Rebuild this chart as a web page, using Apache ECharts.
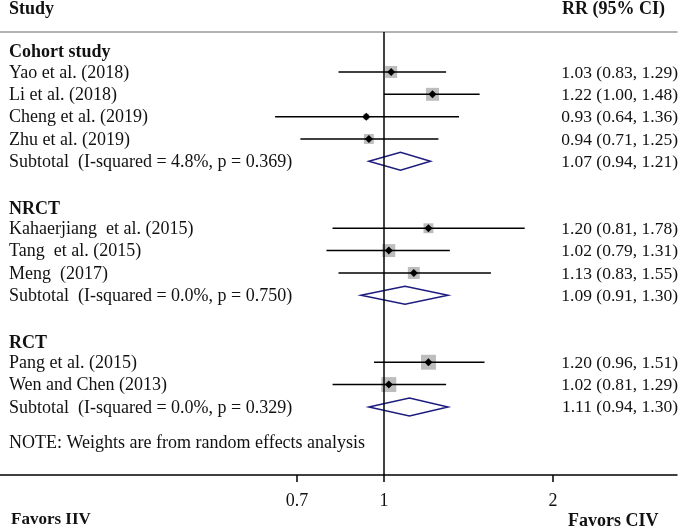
<!DOCTYPE html>
<html>
<head>
<meta charset="utf-8">
<script src="https://cdn.jsdelivr.net/npm/echarts@6/dist/echarts.min.js"></script>
<style>
html, body { margin: 0; padding: 0; background: #fff; }
#main { width: 685px; height: 528px; }
</style>
</head>
<body>
<div id="main"></div>
<script>
var groups = ['Cohort study', 'NRCT', 'RCT'];
var studies = ['Yao et al. (2018)', 'Li et al. (2018)', 'Cheng et al. (2019)', 'Zhu et al. (2019)',
    'Kahaerjiang  et al. (2015)', 'Tang  et al. (2015)', 'Meng  (2017)',
    'Pang et al. (2015)', 'Wen and Chen (2013)'];
var studyGroup = [0, 0, 0, 0, 1, 1, 1, 2, 2];
var rr    = [1.03, 1.22, 0.93, 0.94, 1.20, 1.02, 1.13, 1.20, 1.02];
var lower = [0.83, 1.00, 0.64, 0.71, 0.81, 0.79, 0.83, 0.96, 0.81];
var upper = [1.29, 1.48, 1.36, 1.25, 1.78, 1.31, 1.55, 1.51, 1.29];
// weights (%)
var weights = [11.0, 12.9, 2.7, 7.6, 7.6, 12.9, 11.0, 17.2, 17.2];

var subtotalLabels = ['Subtotal  (I-squared = 4.8%, p = 0.369)',
    'Subtotal  (I-squared = 0.0%, p = 0.750)',
    'Subtotal  (I-squared = 0.0%, p = 0.329)'];
var subRR    = [1.07, 1.09, 1.11];
var subLower = [0.94, 0.91, 0.94];
var subUpper = [1.21, 1.30, 1.30];

var tickValues = [0.7, 1, 2];
var note = 'NOTE: Weights are from random effects analysis';

var FONT = '"Liberation Serif", "Times New Roman", serif';
var xMin = Math.log(0.2073), xMax = Math.log(3.323);

function ciText(a, b, c) {
    return a.toFixed(2) + ' (' + b.toFixed(2) + ', ' + c.toFixed(2) + ')';
}

// rows: header, studies, subtotal, blank
var textRows = [], studyRows = [], subRows = [];
var row = 0;
groups.forEach(function (g, gi) {
    textRows.push([row, g, '', 1]);
    row++;
    studies.forEach(function (s, i) {
        if (studyGroup[i] !== gi) return;
        textRows.push([row, s, ciText(rr[i], lower[i], upper[i]), 0]);
        studyRows.push([Math.log(rr[i]), row, Math.log(lower[i]), Math.log(upper[i]), weights[i]]);
        row++;
    });
    textRows.push([row, subtotalLabels[gi], ciText(subRR[gi], subLower[gi], subUpper[gi]), 0]);
    subRows.push([Math.log(subRR[gi]), row, Math.log(subLower[gi]), Math.log(subUpper[gi])]);
    row += 2;
});
textRows.push([row - 0.4, note, '', 0]);

var myChart = echarts.init(document.getElementById('main'));
var option = {
    animation: false,
    grid: { left: 0, right: 8, top: 32, bottom: 53 },
    xAxis: [{
        type: 'value',
        min: xMin,
        max: xMax,
        position: 'bottom',
        axisLine: { onZero: false, lineStyle: { color: '#000', width: 1.5 } },
        axisTick: {
            customValues: tickValues.map(Math.log),
            length: 7,
            lineStyle: { color: '#000', width: 1.5 }
        },
        axisLabel: {
            customValues: tickValues.map(Math.log),
            margin: 17,
            fontSize: 18,
            fontFamily: FONT,
            color: '#111',
            formatter: function (v) { return String(+Math.exp(v).toFixed(1)); }
        },
        splitLine: { show: false }
    }, {
        type: 'value',
        min: xMin,
        max: xMax,
        position: 'top',
        axisLine: { onZero: false, lineStyle: { color: '#9a9a9a', width: 1.5 } },
        axisTick: { show: false },
        axisLabel: { show: false },
        splitLine: { show: false }
    }],
    yAxis: {
        type: 'value',
        inverse: true,
        min: -0.79,
        max: 19.05,
        show: false
    },
    graphic: [
        { type: 'text', left: 9, top: 0, style: { text: 'Study', font: 'bold 18px ' + FONT, fill: '#111' } },
        { type: 'text', right: 20, top: 0, style: { text: 'RR (95% CI)', font: 'bold 18px ' + FONT, fill: '#111' } },
        { type: 'text', left: 11, bottom: 0, style: { text: 'Favors IIV', font: 'bold 17px ' + FONT, fill: '#111' } },
        { type: 'text', left: 568, bottom: -2, style: { text: 'Favors CIV', font: 'bold 18px ' + FONT, fill: '#111' } }
    ],
    series: [{
        type: 'custom',
        name: 'studies',
        data: studyRows,
        renderItem: function (params, api) {
            var y = api.value(1);
            var c = api.coord([api.value(0), y]);
            var lo = api.coord([api.value(2), y]);
            var hi = api.coord([api.value(3), y]);
            var s = 3.6 * Math.sqrt(api.value(4));
            return {
                type: 'group',
                children: [{
                    type: 'rect',
                    shape: { x: c[0] - s / 2, y: c[1] - s / 2, width: s, height: s },
                    style: { fill: '#bdbdbd' }
                }, {
                    type: 'line',
                    shape: { x1: lo[0], y1: lo[1], x2: hi[0], y2: hi[1] },
                    style: { stroke: '#000', lineWidth: 1.5 }
                }, {
                    type: 'polygon',
                    shape: { points: [[c[0] - 4, c[1]], [c[0], c[1] - 4], [c[0] + 4, c[1]], [c[0], c[1] + 4]] },
                    style: { fill: '#000' }
                }]
            };
        },
        markLine: {
            silent: true,
            symbol: ['none', 'none'],
            label: { show: false },
            lineStyle: { color: '#000', width: 1.5, type: 'solid' },
            data: [{ xAxis: 0 }]
        }
    }, {
        type: 'custom',
        name: 'subtotals',
        data: subRows,
        renderItem: function (params, api) {
            var y = api.value(1);
            var c = api.coord([api.value(0), y]);
            var lo = api.coord([api.value(2), y]);
            var hi = api.coord([api.value(3), y]);
            return {
                type: 'polygon',
                shape: { points: [[lo[0], lo[1]], [c[0], c[1] - 9], [hi[0], hi[1]], [c[0], c[1] + 9]] },
                style: { fill: 'none', stroke: '#1c1c7e', lineWidth: 1.5 }
            };
        }
    }, {
        type: 'custom',
        name: 'text',
        data: textRows.map(function (t) { return [xMin, t[0]]; }),
        renderItem: function (params, api) {
            var t = textRows[params.dataIndex];
            var cs = params.coordSys;
            var y = api.coord([xMin, t[0]])[1] + (t[3] ? 3 : 1);
            var children = [{
                type: 'text',
                style: {
                    x: cs.x + 9, y: y, text: t[1], font: (t[3] ? 'bold ' : '') + '18px ' + FONT,
                    fill: '#111', align: 'left', verticalAlign: 'middle'
                }
            }];
            if (t[2]) {
                children.push({
                    type: 'text',
                    style: {
                        x: cs.x + cs.width + 1, y: y, text: t[2], font: '17.5px ' + FONT,
                        fill: '#111', align: 'right', verticalAlign: 'middle'
                    }
                });
            }
            return { type: 'group', children: children };
        }
    }]
};
myChart.setOption(option);
</script>
</body>
</html>
